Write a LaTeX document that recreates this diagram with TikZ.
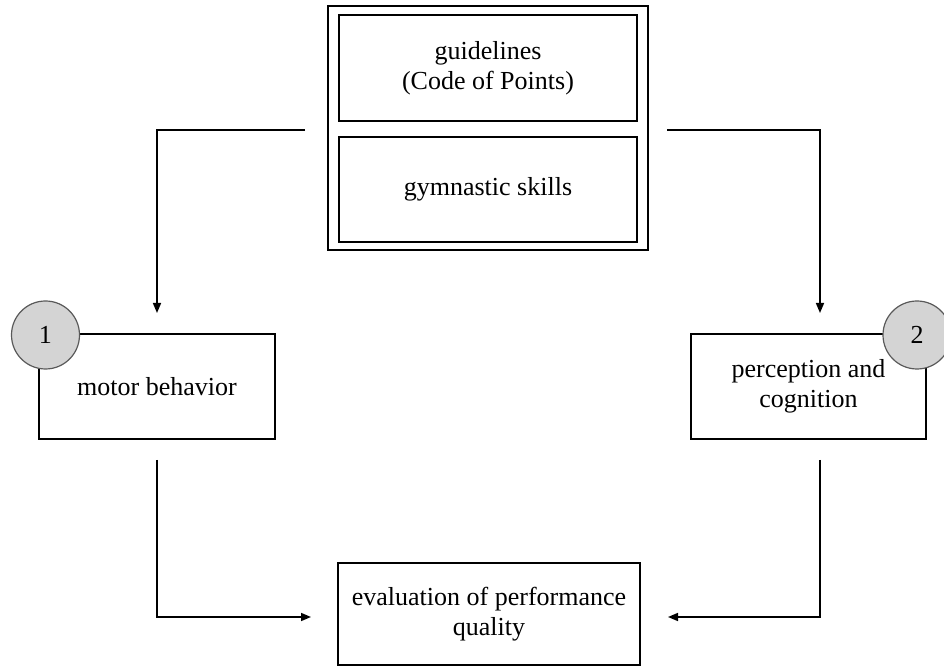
\documentclass[tikz,border=0pt]{standalone}
\usepackage{fontspec}
\setmainfont{Liberation Serif}
\usetikzlibrary{arrows.meta}
\begin{document}
\begin{tikzpicture}[x=0.5pt,y=-0.5pt,
  every node/.style={font=\fontsize{13}{15}\selectfont},
  box/.style={draw,line width=0.9pt,align=center,inner sep=0pt},
  badge/.style={circle,draw=black!65,line width=0.6pt,fill=black!17,minimum size=34pt,inner sep=0pt},
  arr/.style={line width=0.8pt,-{Triangle[length=5pt,width=4pt]}},
  link/.style={line width=0.8pt}]
\useasboundingbox (0,0) rectangle (944,667);

% sources: the double frame with its two entries
\node[box,minimum width=160pt,minimum height=122pt] (frame) at (488,128) {};
\node[box,minimum width=149pt,minimum height=53pt] (guide) at (488,68) {guidelines\\(Code of Points)};
\node[box,minimum width=149pt,minimum height=52.5pt] (skills) at (488,189.5) {gymnastic skills};

% the two processes and the outcome
\node[box,minimum width=118pt,minimum height=52.5pt] (motor) at (157,386.5) {motor behavior};
\node[box,minimum width=117.5pt,minimum height=52.5pt] (percep) at (808.5,386.5) {perception and\\cognition};
\node[box,minimum width=151pt,minimum height=51pt] (eval) at (489,614) {evaluation of performance\\quality};

% numbered badges on the process boxes
\node[badge] (one) at (45.5,335) {1};
\node[badge] (two) at (917,335) {2};

% connector end points
\coordinate (gl) at (305,130);
\coordinate (gr) at (667,130);
\coordinate (ml) at (157,313);
\coordinate (pr) at (820,313);
\coordinate (mb) at (157,460);
\coordinate (pb) at (820,460);
\coordinate (el) at (311,617);
\coordinate (er) at (668,617);

\draw[arr] (gl) -| (ml);
\draw[arr] (gr) -| (pr);
\draw[arr] (mb) |- (el);
\draw[arr] (pb) |- (er);
\end{tikzpicture}
\end{document}
